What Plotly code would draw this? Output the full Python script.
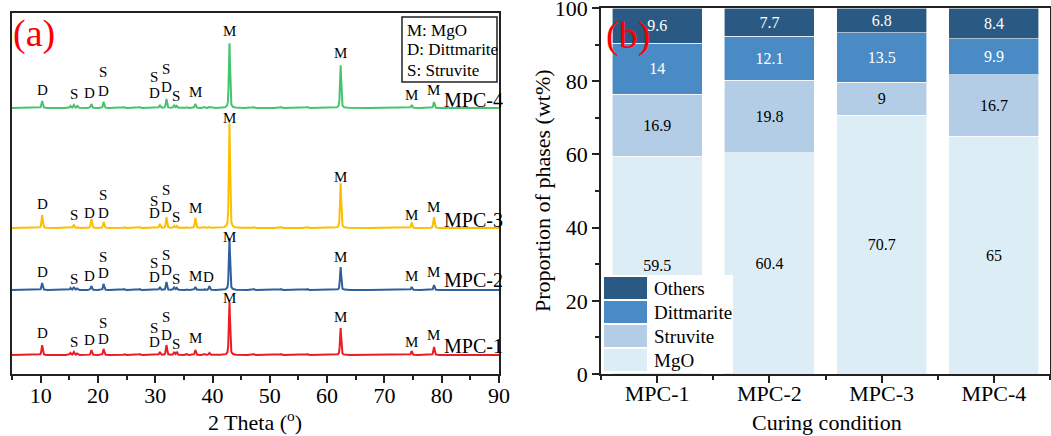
import numpy as np
import plotly.graph_objects as go
from plotly.subplots import make_subplots

W, H = 1051, 436
FONT = "Liberation Serif, Times New Roman, serif"

# ---------------- (a) XRD patterns ----------------
samples = ["MPC-1", "MPC-2", "MPC-3", "MPC-4"]
line_colors = ["#ec1c24", "#2f5f9e", "#fcbf00", "#45c46f"]
baseline_offsets = [19, 84, 146, 266]

peak_2theta = [10.25, 15.2, 15.8, 16.4, 18.85, 21.0, 24.6, 27.3, 30.8, 31.95,
               33.3, 33.75, 35.5, 37.0, 38.6, 39.45, 42.95, 47.2, 52.0, 56.6,
               62.35, 74.75, 78.65]
mpc1_int = [10, 2, 3, 1.5, 5, 6, 1, 1, 3, 10, 3, 3, 1, 5, 1, 2, 53, 1, 1, 1, 27, 4, 8]
mpc2_int = [7, 2, 3, 1.5, 4, 6, 1, 1, 3, 8, 3, 2, 1, 3, 1, 4, 52, 1, 1, 1, 23, 3, 5]
mpc3_int = [13, 1, 3, 1, 9, 6, 1, 1, 4, 11, 2, 2, 1, 10, 1, 1, 105, 1, 1, 1, 45, 5, 11]
mpc4_int = [7, 2, 3, 2, 4, 6, 1, 1, 3, 9, 3, 2, 1, 4, 1, 1, 65, 1, 1, 1, 43, 3, 6]
intensities = [mpc1_int, mpc2_int, mpc3_int, mpc4_int]

# phase labels above the peaks
label_text = ["D", "S", "D", "S", "D", "S", "D", "S", "D", "S", "M", "D", "M", "M", "M", "M"]
label_2theta = [10.3, 15.8, 18.6, 20.9, 20.9, 29.8, 29.9, 31.9, 32.0, 33.7, 37.0, 39.3,
                43.0, 62.3, 74.8, 78.6]
mpc1_label_h = [22, 13, 15, 32, 16, 27, 13, 38, 20, 11, 17, None, 57, 38, 13, 20]
mpc2_label_h = [18, 11, 14, 33, 17, 27, 13, 35, 20, 11, 14, 13, 53, 33, 14, 18]
mpc3_label_h = [24, 13, 15, 33, 15, 27, 15, 38, 21, 11, 20, None, 110, 51, 13, 21]
mpc4_label_h = [18, 14, 15, 36, 17, 31, 15, 39, 21, 12, 16, None, 77, 55, 13, 18]
label_heights = [mpc1_label_h, mpc2_label_h, mpc3_label_h, mpc4_label_h]
name_label_h = [9, 10, 8, 8]

# ---------------- (b) phase composition ----------------
conditions = ["MPC-1", "MPC-2", "MPC-3", "MPC-4"]
mgo = [59.5, 60.4, 70.7, 65]
struvite = [16.9, 19.8, 9, 16.7]
dittmarite = [14, 12.1, 13.5, 9.9]
others = [9.6, 7.7, 6.8, 8.4]
phase_names = ["MgO", "Struvite", "Dittmarite", "Others"]
phase_values = [mgo, struvite, dittmarite, others]
phase_colors = ["#ddedf6", "#b3cde6", "#4a8bc6", "#2a5a83"]
phase_text_colors = ["black", "black", "white", "white"]


def px_x(p):
    return p / W


def px_y(p):
    return 1 - p / H


fig = make_subplots(rows=1, cols=2)

tt = np.arange(5, 90.001, 0.02)
for name, col, off, amp in zip(samples, line_colors, baseline_offsets, intensities):
    y = np.full_like(tt, float(off))
    for pos, a in zip(peak_2theta, amp):
        w = 0.12
        y += a * (0.5 * np.exp(-((tt - pos) / w) ** 2 * np.log(2))
                  + 0.5 / (1 + ((tt - pos) / w) ** 2))
    fig.add_trace(go.Scatter(x=tt, y=y, mode="lines", line=dict(color=col, width=2),
                             name=name, showlegend=False, hoverinfo="skip"), row=1, col=1)

annotations = []
for name, off, heights, nh in zip(samples, baseline_offsets, label_heights, name_label_h):
    for txt, xv, hv in zip(label_text, label_2theta, heights):
        if hv is None:
            continue
        annotations.append(dict(x=xv, y=off + hv, xref="x", yref="y", text=txt,
                                showarrow=False, font=dict(family=FONT, size=15, color="black"),
                                xanchor="center", yanchor="middle"))
    annotations.append(dict(x=80.0, y=off + nh, xref="x", yref="y", text=name,
                            showarrow=False, font=dict(family=FONT, size=20, color="black"),
                            xanchor="left", yanchor="middle"))

# key box for the phase letters
key_lines = ["M: MgO", "D: Dittmarite", "S: Struvite"]
key_y = [30, 50, 71]
for txt, yp in zip(key_lines, key_y):
    annotations.append(dict(x=px_x(405), y=px_y(yp), xref="paper", yref="paper", text=txt,
                            showarrow=False, font=dict(family=FONT, size=17, color="black"),
                            xanchor="left", yanchor="middle"))

annotations.append(dict(x=px_x(11), y=px_y(33), xref="paper", yref="paper", text="(a)",
                        showarrow=False, font=dict(family=FONT, size=38, color="red"),
                        xanchor="left", yanchor="middle"))
annotations.append(dict(x=px_x(604), y=px_y(36), xref="paper", yref="paper", text="(b)",
                        showarrow=False, font=dict(family=FONT, size=38, color="red"),
                        xanchor="left", yanchor="middle"))

# axis titles
title_font = dict(family=FONT, size=22, color="black")
annotations.append(dict(x=px_x(255), y=px_y(421), xref="paper", yref="paper",
                        text="2 Theta (<sup>o</sup>)", showarrow=False, font=title_font,
                        xanchor="center", yanchor="middle"))
annotations.append(dict(x=px_x(827), y=px_y(422), xref="paper", yref="paper",
                        text="Curing condition", showarrow=False, font=title_font,
                        xanchor="center", yanchor="middle"))
annotations.append(dict(x=px_x(542), y=px_y(191), xref="paper", yref="paper",
                        text="Proportion of phases (wt%)", showarrow=False, font=title_font,
                        textangle=-90, xanchor="center", yanchor="middle"))

xpos = list(range(len(conditions)))
for nm, vals, colr, tc in zip(phase_names, phase_values, phase_colors, phase_text_colors):
    fig.add_trace(go.Bar(x=xpos, y=vals, name=nm, marker=dict(color=colr, line=dict(color="white", width=0.6)),
                         text=[f"{v:g}" for v in vals], texttemplate="%{text}",
                         textposition="inside", insidetextanchor="middle", textangle=0,
                         textfont=dict(family=FONT, size=16, color=tc),
                         showlegend=False, hoverinfo="skip"), row=1, col=2)

shapes = [
    dict(type="rect", xref="paper", yref="paper", x0=px_x(402), x1=px_x(497),
         y0=px_y(82), y1=px_y(17), line=dict(color="#222", width=1.5), fillcolor="white", layer="above"),
    dict(type="rect", xref="paper", yref="paper", x0=px_x(602), x1=px_x(733),
         y0=px_y(373), y1=px_y(275), line=dict(width=0), fillcolor="white", layer="above"),
]
legend_rows = [(277, 299), (301, 323), (325, 347), (349, 371)]
for (t, b), nm, colr in zip(legend_rows, phase_names[::-1], phase_colors[::-1]):
    shapes.append(dict(type="rect", xref="paper", yref="paper", x0=px_x(604), x1=px_x(647),
                       y0=px_y(b), y1=px_y(t), line=dict(width=0), fillcolor=colr, layer="above"))
    annotations.append(dict(x=px_x(652), y=px_y((t + b) / 2), xref="paper", yref="paper", text=nm,
                            showarrow=False, font=dict(family=FONT, size=19, color="black"),
                            xanchor="left", yanchor="middle"))

axis_common = dict(showline=True, linecolor="#222", linewidth=1.5, mirror=True,
                   showgrid=False, zeroline=False, ticklabeloverflow="allow", automargin=False,
                   tickfont=dict(family=FONT, size=22, color="black"))

fig.update_xaxes(domain=[px_x(12), px_x(499)], range=[5, 90], tick0=0, dtick=10,
                 ticks="outside", ticklen=7, tickwidth=1.5, tickcolor="#222", ticklabelstandoff=-6,
                 minor=dict(dtick=5, tick0=0, ticks="outside", ticklen=4, tickwidth=1.5, tickcolor="#222"),
                 **axis_common, row=1, col=1)
fig.update_yaxes(domain=[px_y(374), px_y(13)], range=[0, 361], showticklabels=False, ticks="",
                 **axis_common, row=1, col=1)

fig.update_xaxes(domain=[px_x(601), px_x(1050)], range=[-0.5, 3.5], tickvals=xpos, ticktext=conditions,
                 ticks="outside", ticklen=7, tickwidth=1.5, tickcolor="#222", ticklabelstandoff=-8,
                 minor=dict(dtick=0.5, tick0=0.5, ticks="outside", ticklen=4, tickwidth=1.5, tickcolor="#222"),
                 **axis_common, row=1, col=2)
fig.update_yaxes(domain=[px_y(374), px_y(8)], range=[0, 100], tick0=0, dtick=20,
                 ticks="outside", ticklen=7, tickwidth=1.5, tickcolor="#222",
                 minor=dict(dtick=10, ticks="outside", ticklen=4, tickwidth=1.5, tickcolor="#222"),
                 **axis_common, row=1, col=2)

fig.update_layout(width=W, height=H, margin=dict(l=0, r=0, t=0, b=0),
                  paper_bgcolor="white", plot_bgcolor="white", barmode="stack", bargap=0.2,
                  annotations=annotations, shapes=shapes, showlegend=False)

fig.write_html("out.html")
